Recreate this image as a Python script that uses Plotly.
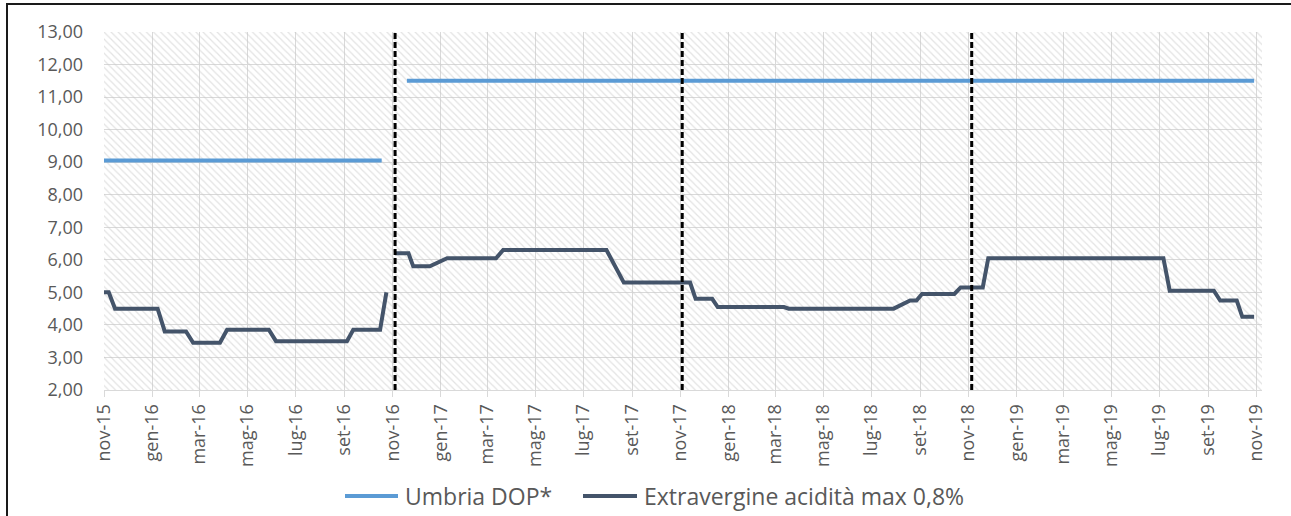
import plotly.graph_objects as go
import pandas as pd

# ---------------- data ----------------
umbria_dates = ["2015-11-01", "2016-10-18", "2016-11-05", "2016-11-19", "2019-10-29"]
umbria_vals = [9.05, 9.05, None, 11.5, 11.5]

extra_dates = [
    "2015-11-01", "2015-11-07", "2015-11-15", "2016-01-08", "2016-01-17",
    "2016-02-13", "2016-02-22", "2016-03-27", "2016-04-05", "2016-05-28",
    "2016-06-06", "2016-09-04", "2016-09-12", "2016-10-16", "2016-10-24",
    "2016-10-30",
    "2016-11-04", "2016-11-21", "2016-11-27", "2016-12-18", "2017-01-09",
    "2017-03-12", "2017-03-21", "2017-07-30", "2017-08-21", "2017-11-13",
    "2017-11-20", "2017-12-11", "2017-12-18", "2018-03-12", "2018-03-18",
    "2018-07-29", "2018-08-19", "2018-08-27", "2018-09-03", "2018-10-14",
    "2018-10-22", "2018-11-19", "2018-11-26", "2019-07-06", "2019-07-14",
    "2019-09-08", "2019-09-16", "2019-10-07", "2019-10-14", "2019-10-29",
]
extra_vals = [
    5.00, 5.00, 4.50, 4.50, 3.80,
    3.80, 3.45, 3.45, 3.85, 3.85,
    3.50, 3.50, 3.85, 3.85, 5.00,
    None,
    6.20, 6.20, 5.80, 5.80, 6.05,
    6.05, 6.30, 6.30, 5.30, 5.30,
    4.80, 4.80, 4.55, 4.55, 4.50,
    4.50, 4.75, 4.75, 4.95, 4.95,
    5.15, 5.15, 6.05, 6.05, 5.05,
    5.05, 4.75, 4.75, 4.25, 4.25,
]

season_starts = ["2016-11-04", "2017-11-03", "2018-11-05"]

series_names = ["Umbria DOP*", "Extravergine acidità max 0,8%"]

tick_labels = [
    "nov-15", "gen-16", "mar-16", "mag-16", "lug-16", "set-16",
    "nov-16", "gen-17", "mar-17", "mag-17", "lug-17", "set-17",
    "nov-17", "gen-18", "mar-18", "mag-18", "lug-18", "set-18",
    "nov-18", "gen-19", "mar-19", "mag-19", "lug-19", "set-19",
    "nov-19",
]
tick_dates = [d.strftime("%Y-%m-%d") for d in pd.date_range("2015-11-01", periods=len(tick_labels), freq="2MS")]

x_range = ["2015-11-01", "2019-11-08"]
y_range = [2, 13]

# ---------------- layout constants ----------------
W, H = 1291, 516
ML, MT = 104, 32
PLOT_R, PLOT_B = 1262, 390
MR, MB = W - PLOT_R, H - PLOT_B
PW, PH = PLOT_R - ML, PLOT_B - MT

C_UMB = "#5B9BD5"
C_EXT = "#44546A"
C_TXT = "#595959"
C_GRID = "#D9D9D9"
FONT = "Open Sans"


def px_x(px):  # pixel -> paper fraction
    return (px - ML) / PW


def px_y(py):
    return (PLOT_B - py) / PH


fig = go.Figure()

# hatched plot-area background
fig.add_trace(go.Scatter(
    x=[x_range[0], x_range[1], x_range[1], x_range[0], x_range[0]],
    y=[y_range[0], y_range[0], y_range[1], y_range[1], y_range[0]],
    mode="lines", line=dict(width=0), fill="toself",
    fillcolor="rgba(0,0,0,0)",
    fillpattern=dict(shape="\\", fgcolor="#C8C8C8", bgcolor="rgba(0,0,0,0)",
                     size=5, solidity=0.25),
    hoverinfo="skip", showlegend=False,
))

colors = [C_UMB, C_EXT]
fig.add_trace(go.Scatter(
    x=umbria_dates, y=umbria_vals, mode="lines", name=series_names[0],
    line=dict(color=C_UMB, width=4), connectgaps=False, showlegend=False,
))
fig.add_trace(go.Scatter(
    x=extra_dates, y=extra_vals, mode="lines", name=series_names[1],
    line=dict(color=C_EXT, width=4), connectgaps=False, showlegend=False,
))

for d in season_starts:
    fig.add_shape(type="line", xref="x", yref="paper", x0=d, x1=d, y0=0, y1=1,
                  line=dict(color="black", width=3, dash="6px,3px"), layer="above")

# legend (drawn manually to match sample length and spacing)
legend_y = 496
legend_items = [(345, 398), (583, 637)]
for (s0, s1), name, col in zip(legend_items, series_names, colors):
    fig.add_shape(type="line", xref="paper", yref="paper",
                  x0=px_x(s0), x1=px_x(s1), y0=px_y(legend_y), y1=px_y(legend_y),
                  line=dict(color=col, width=4))
    fig.add_annotation(xref="paper", yref="paper", x=px_x(s1 + 5), y=px_y(legend_y),
                       xanchor="left", yanchor="middle", text=name, showarrow=False,
                       font=dict(size=23, color=C_TXT, family=FONT))

# outer border (cropped at right/bottom like the reference)
fig.add_shape(type="rect", xref="paper", yref="paper",
              x0=px_x(7), x1=px_x(W + 20),
              y0=px_y(H + 20), y1=px_y(4),
              line=dict(color="#1a1a1a", width=2), fillcolor="rgba(0,0,0,0)", layer="above")

fig.update_layout(
    width=W, height=H,
    margin=dict(l=ML, r=MR, t=MT, b=MB, autoexpand=False),
    paper_bgcolor="white", plot_bgcolor="white",
    separators=",.",
    font=dict(family=FONT, color=C_TXT, size=18),
    showlegend=False,
)
fig.update_xaxes(
    type="date", range=x_range, tickvals=tick_dates, ticktext=tick_labels,
    tickangle=-90, tickfont=dict(size=18, color=C_TXT),
    showgrid=True, gridcolor=C_GRID, gridwidth=1,
    showline=True, linecolor=C_GRID, linewidth=1,
    ticks="outside", ticklen=6, tickcolor=C_GRID, zeroline=False, automargin=False,
)
fig.update_yaxes(
    range=y_range, dtick=1, tick0=2, tickformat=".2f",
    tickfont=dict(size=18, color=C_TXT),
    showgrid=True, gridcolor=C_GRID, gridwidth=1,
    showline=False, zeroline=False, ticks="", ticklabelstandoff=20, automargin=False,
)

fig.write_html(
    "out.html",
    config={"displayModeBar": False},
    post_script="document.body.style.margin='0';document.body.style.overflow='hidden';",
)
